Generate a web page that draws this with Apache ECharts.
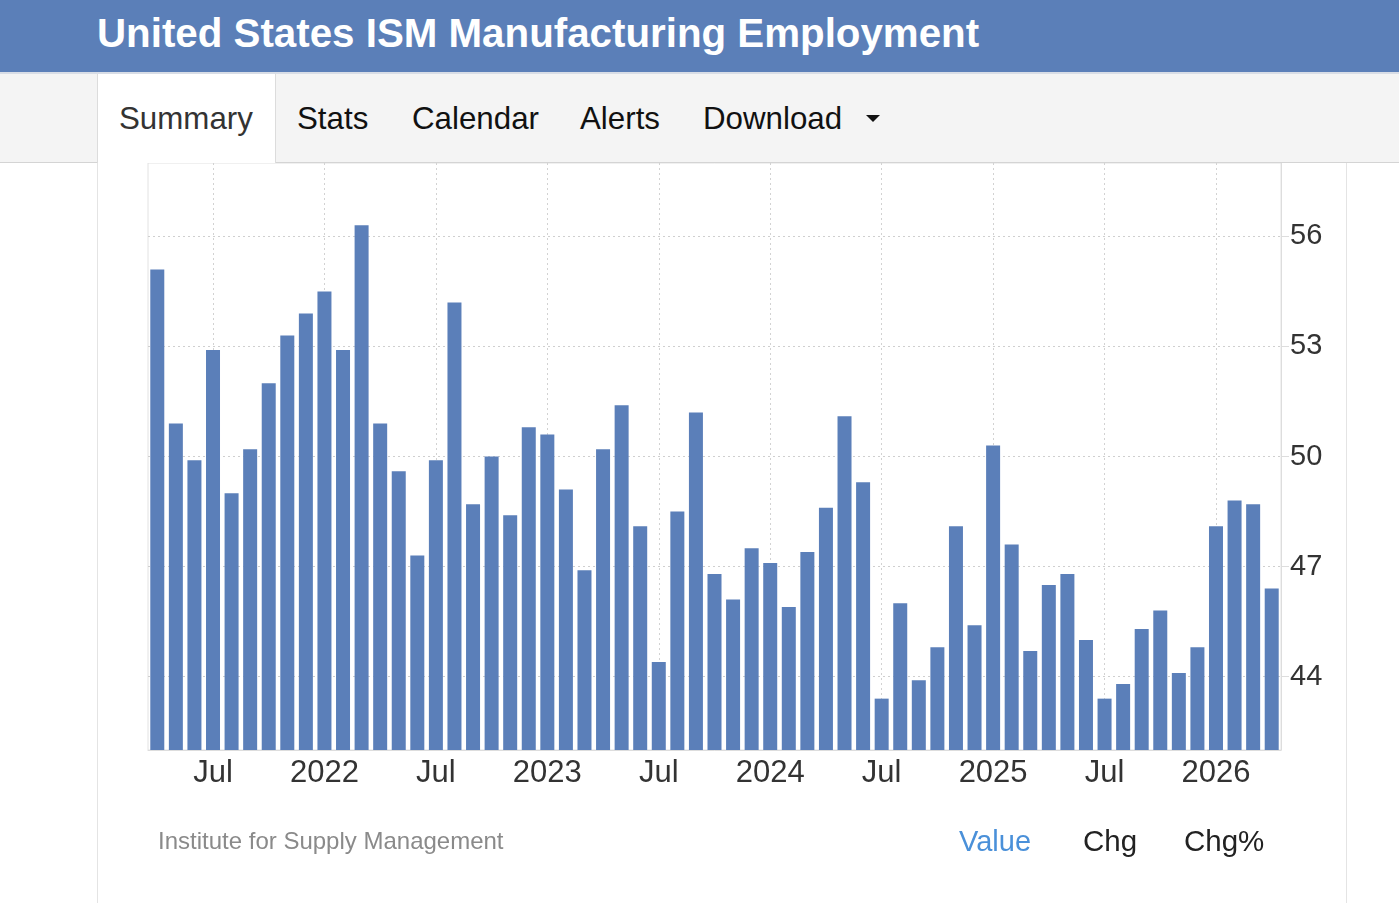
<!DOCTYPE html>
<html>
<head>
<meta charset="utf-8">
<script src="https://cdn.jsdelivr.net/npm/echarts@6.0.0/dist/echarts.min.js"></script>
<style>
  body { margin: 0; width: 1399px; height: 903px; overflow: hidden; background: #fff;
         font-family: 'Liberation Sans', Arial, Helvetica, sans-serif; position: relative; }
  .abs { position: absolute; white-space: nowrap; }
  #head { left: 0; top: 0; width: 1399px; height: 72px; background: #5b7fb8; }
  #title { left: 97px; top: 14px; font-size: 40.3px; line-height: 40px; font-weight: bold; color: #fff; }
  #nav { left: 0; top: 72px; width: 1399px; height: 88px; background: #f4f4f4;
         border-top: 2px solid #d8dde6; border-bottom: 1px solid #d4d4d4; }
  #tab { left: 97px; top: 74px; width: 177px; height: 89px; background: #fff;
         border-left: 1px solid #dcdcdc; border-right: 1px solid #dcdcdc; }
  .nav { top: 101px; font-size: 31.3px; line-height: 36px; color: #111; }
  #caret { left: 866px; top: 115px; width: 0; height: 0; border-left: 7px solid transparent;
           border-right: 7px solid transparent; border-top: 7px solid #111; }
  .side { top: 163px; width: 0; height: 740px; border-left: 1px solid #e4e4e4; }
  #chart { left: 0; top: 163px; width: 1399px; height: 740px; }
  .foot { font-size: 24px; line-height: 28px; }
</style>
</head>
<body>
<div id="head" class="abs"></div>
<div id="title" class="abs">United States ISM Manufacturing Employment</div>
<div id="nav" class="abs"></div>
<div id="tab" class="abs"></div>
<div class="abs nav" style="left:119px;color:#333">Summary</div>
<div class="abs nav" style="left:297px">Stats</div>
<div class="abs nav" style="left:412px">Calendar</div>
<div class="abs nav" style="left:580px">Alerts</div>
<div class="abs nav" style="left:703px">Download</div>
<div id="caret" class="abs"></div>
<div class="abs side" style="left:97px"></div>
<div class="abs side" style="left:1346px"></div>
<div id="chart" class="abs"></div>
<div class="abs foot" style="left:158px;top:827px;color:#8a8a8a">Institute for Supply Management</div>
<div class="abs foot" style="left:959px;top:825px;font-size:29px;line-height:32px;color:#4a90d9">Value</div>
<div class="abs foot" style="left:1083px;top:825px;font-size:29.5px;line-height:32px;color:#222">Chg</div>
<div class="abs foot" style="left:1184px;top:825px;font-size:29.5px;line-height:32px;color:#222">Chg%</div>

<script>
  // months, Apr 2021 .. Apr 2026
  var months = [
    '2021-04', '2021-05', '2021-06', '2021-07', '2021-08', '2021-09', '2021-10', '2021-11', '2021-12',
    '2022-01', '2022-02', '2022-03', '2022-04', '2022-05', '2022-06', '2022-07', '2022-08', '2022-09', '2022-10', '2022-11', '2022-12',
    '2023-01', '2023-02', '2023-03', '2023-04', '2023-05', '2023-06', '2023-07', '2023-08', '2023-09', '2023-10', '2023-11', '2023-12',
    '2024-01', '2024-02', '2024-03', '2024-04', '2024-05', '2024-06', '2024-07', '2024-08', '2024-09', '2024-10', '2024-11', '2024-12',
    '2025-01', '2025-02', '2025-03', '2025-04', '2025-05', '2025-06', '2025-07', '2025-08', '2025-09', '2025-10', '2025-11', '2025-12',
    '2026-01', '2026-02', '2026-03', '2026-04'
  ]
  var employment = [
    55.1, 50.9, 49.9, 52.9, 49.0, 50.2, 52.0, 53.3, 53.9,
    54.5, 52.9, 56.3, 50.9, 49.6, 47.3, 49.9, 54.2, 48.7, 50.0, 48.4, 50.8,
    50.6, 49.1, 46.9, 50.2, 51.4, 48.1, 44.4, 48.5, 51.2, 46.8, 46.1, 47.5,
    47.1, 45.9, 47.4, 48.6, 51.1, 49.3, 43.4, 46.0, 43.9, 44.8, 48.1, 45.4,
    50.3, 47.6, 44.7, 46.5, 46.8, 45.0, 43.4, 43.8, 45.3, 45.8, 44.1, 44.8,
    48.1, 48.8, 48.7, 46.4
  ]
  var yTicks = [44, 47, 50, 53, 56]

  // only Jan / Jul get a label and a grid line
  function isTick(index, value) {
    var m = value.slice(5)
    return m === '01' || m === '07'
  }

  var chart = echarts.init(document.getElementById('chart'))
  chart.setOption({
    animation: false,
    grid: {
      left: 148, right: 118, top: 0, bottom: 153,
      show: true, borderColor: '#e2e2e2', borderWidth: 1
    },
    xAxis: {
      type: 'category',
      data: months,
      boundaryGap: true,
      axisLine: { show: true, lineStyle: { color: '#dddddd' } },
      // ticks used as the dotted vertical grid, centred on the bars
      axisTick: {
        show: true, inside: true, length: 587, alignWithLabel: true, interval: isTick,
        lineStyle: { type: [2, 3], color: '#d2d2d2', width: 1 }
      },
      splitLine: { show: false },
      axisLabel: {
        interval: isTick,
        margin: 8,
        fontSize: 31,
        color: '#333',
        fontFamily: 'Liberation Sans',
        formatter: function (v) {
          return v.slice(5) === '01' ? v.slice(0, 4) : 'Jul'
        }
      }
    },
    yAxis: {
      type: 'value',
      position: 'right',
      min: 42,
      max: 58,
      axisLine: { show: true, lineStyle: { color: '#dddddd' } },
      axisTick: { show: true, length: 8, customValues: yTicks, lineStyle: { color: '#dddddd' } },
      axisLabel: {
        customValues: yTicks, margin: 9, fontSize: 29, color: '#333',
        fontFamily: 'Liberation Sans', padding: [0, 0, 4, 0]
      },
      splitLine: { show: true, lineStyle: { type: [2, 3], color: '#cfcfcf' } }
    },
    series: [{
      type: 'bar',
      data: employment,
      barWidth: 14,
      itemStyle: { color: '#5b7fb9' }
    }]
  })
</script>
</body>
</html>
